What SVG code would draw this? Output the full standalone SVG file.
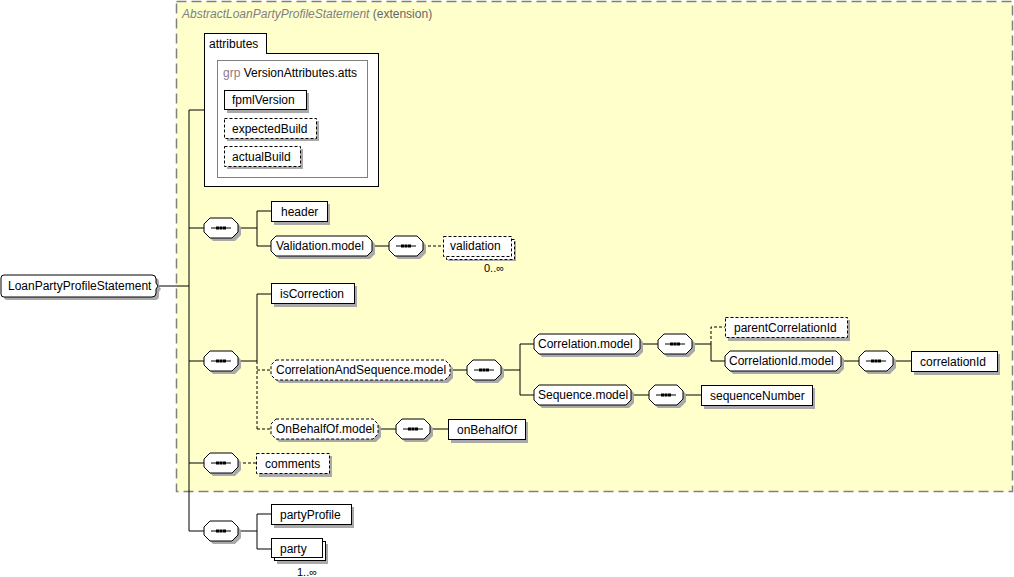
<svg xmlns="http://www.w3.org/2000/svg" xmlns:xlink="http://www.w3.org/1999/xlink" width="1014" height="577" viewBox="0 0 1014 577">
<style>
text{font-family:"Liberation Sans",Arial,sans-serif;font-size:12px;fill:#000}
.sh{fill:#A9A9A9;stroke:none}
.el{fill:#fff;stroke:#000;stroke-width:1}
.opt{fill:#fff;stroke:#000;stroke-width:1;stroke-dasharray:3,2}
.ln{fill:none;stroke:#000;stroke-width:1}
.dl{fill:none;stroke:#000;stroke-width:1;stroke-dasharray:3,2}
.small{font-size:11px}
</style>
<defs>
<g id="seq">
<path class="sh" d="M9,3H31L37,9V17L31,23H9L3,17V9Z"/>
<path class="el" d="M6,0H28L34,6V14L28,20H6L0,14V6Z"/>
<line x1="7" y1="10" x2="27" y2="10" stroke="#000"/>
<rect x="12" y="8.5" width="3" height="3" fill="#000"/>
<rect x="15.5" y="8.5" width="3" height="3" fill="#000"/>
<rect x="19" y="8.5" width="3" height="3" fill="#000"/>
</g>
</defs>

<g id="extension">
<rect x="176.5" y="1.5" width="836" height="490" fill="#FFFFCC" stroke="#808080" stroke-width="1.5" stroke-dasharray="10,5"/>
<text x="182" y="18" fill="#808080" style="font-style:italic;fill:#808080">AbstractLoanPartyProfileStatement <tspan style="font-style:normal;fill:#666">(extension)</tspan></text>
</g>

<g id="connectors">
<path class="ln" d="M157,286H189M189,110V531M189,110H204M189,228H204M189,361H204M189,463H204M189,531H204"/>
<path class="ln" d="M238,228H257M257,211V246M257,211H271M257,246H271M372,246H389"/>
<path class="dl" d="M423,246H443"/>
<path class="ln" d="M238,361H257M257,294V361M257,294H271"/>
<path class="dl" d="M257,361V429M257,370H271M257,429H271"/>
<path class="ln" d="M450,370H467M501,370H520M520,344V395M520,344H534M520,395H534"/>
<path class="ln" d="M640,344H658M692,344H711M711,344V361M711,361H725M841,361H859M893,361H911"/>
<path class="dl" d="M711,344V327H725"/>
<path class="ln" d="M631,395H649M683,395H701"/>
<path class="ln" d="M378,429H396M430,429H448"/>
<path class="dl" d="M238,463H256"/>
<path class="ln" d="M238,531H257M257,514V549M257,514H271M257,549H271"/>
</g>

<g id="root">
<path class="sh" d="M7,278H155Q159,278 159,282V286L161,289L159,292V296Q159,300 155,300H7Q4,300 4,297V281Q4,278 7,278Z"/>
<path class="el" d="M4,275H152Q156,275 156,279V283L158,286L156,289V293Q156,297 152,297H4Q1,297 1,294V278Q1,275 4,275Z"/>
<text x="8" y="290">LoanPartyProfileStatement</text>
</g>

<g id="attributes">
<rect x="204.5" y="33.5" width="62" height="21" class="el"/>
<rect x="204.5" y="53.5" width="174" height="133" class="el"/>
<line x1="205" y1="53.5" x2="266" y2="53.5" stroke="#fff" stroke-width="1.2"/>
<text x="209" y="48">attributes</text>
<rect x="217.5" y="60.5" width="150" height="117" fill="none" stroke="#808080"/>
<text x="223" y="77"><tspan fill="#8B7B8B">grp</tspan> VersionAttributes.atts</text>
</g>
<g id="fpmlVersion">
<rect class="sh" x="227" y="93" width="82" height="20"/>
<rect class="el" x="224.5" y="90.5" width="82" height="19"/>
<text x="232" y="104">fpmlVersion</text>
</g>
<g id="expectedBuild">
<rect class="sh" x="227" y="121" width="92" height="20"/>
<rect class="opt" x="224.5" y="118.5" width="92" height="20"/>
<text x="232" y="133">expectedBuild</text>
</g>
<g id="actualBuild">
<rect class="sh" x="227" y="149" width="76" height="20"/>
<rect class="opt" x="224.5" y="146.5" width="76" height="20"/>
<text x="232" y="161">actualBuild</text>
</g>

<g id="seq1"><use xlink:href="#seq" x="204" y="218"/></g>
<g id="seq2"><use xlink:href="#seq" x="204" y="351"/></g>
<g id="seq3"><use xlink:href="#seq" x="204" y="453"/></g>
<g id="seq4"><use xlink:href="#seq" x="204" y="521"/></g>
<g id="seq5"><use xlink:href="#seq" x="389" y="236"/></g>
<g id="seq6"><use xlink:href="#seq" x="467" y="360"/></g>
<g id="seq7"><use xlink:href="#seq" x="396" y="419"/></g>
<g id="seq8"><use xlink:href="#seq" x="658" y="334"/></g>
<g id="seq9"><use xlink:href="#seq" x="859" y="351"/></g>
<g id="seq10"><use xlink:href="#seq" x="649" y="385"/></g>

<g id="header">
<rect class="sh" x="274" y="204" width="56" height="21"/>
<rect class="el" x="271.5" y="201.5" width="56" height="20"/>
<text x="281" y="216">header</text>
</g>
<g id="ValidationModel">
<path class="sh" transform="translate(3,3)" d="M276,236H367L372,241V251L367,256H276L271,251V241Z"/>
<path class="el" d="M276,236H367L372,241V251L367,256H276L271,251V241Z"/>
<text x="276" y="250">Validation.model</text>
</g>
<g id="validation">
<rect class="sh" x="448" y="241" width="68" height="20"/>
<rect class="opt" x="446.5" y="239.5" width="68" height="20"/>
<rect class="opt" x="443.5" y="236.5" width="68" height="20"/>
<text x="450" y="250">validation</text>
<text x="484" y="272" class="small">0..∞</text>
</g>
<g id="isCorrection">
<rect class="sh" x="274" y="286" width="83" height="21"/>
<rect class="el" x="271.5" y="283.5" width="83" height="20"/>
<text x="280" y="298">isCorrection</text>
</g>
<g id="CorrelationAndSequenceModel">
<path class="sh" transform="translate(3,3)" d="M276,360H445L450,365V375L445,380H276L271,375V365Z"/>
<path class="opt" d="M276,360H445L450,365V375L445,380H276L271,375V365Z"/>
<text x="276" y="374">CorrelationAndSequence.model</text>
</g>
<g id="OnBehalfOfModel">
<path class="sh" transform="translate(3,3)" d="M276,419H373L378,424V434L373,439H276L271,434V424Z"/>
<path class="opt" d="M276,419H373L378,424V434L373,439H276L271,434V424Z"/>
<text x="276" y="433">OnBehalfOf.model</text>
</g>
<g id="onBehalfOf">
<rect class="sh" x="451" y="422" width="77" height="21"/>
<rect class="el" x="448.5" y="419.5" width="77" height="20"/>
<text x="457" y="434">onBehalfOf</text>
</g>
<g id="comments">
<rect class="sh" x="259" y="456" width="73" height="21"/>
<rect class="opt" x="256.5" y="453.5" width="73" height="20"/>
<text x="265" y="468">comments</text>
</g>
<g id="CorrelationModel">
<path class="sh" transform="translate(3,3)" d="M539,334H635L640,339V349L635,354H539L534,349V339Z"/>
<path class="el" d="M539,334H635L640,339V349L635,354H539L534,349V339Z"/>
<text x="538" y="348">Correlation.model</text>
</g>
<g id="SequenceModel">
<path class="sh" transform="translate(3,3)" d="M539,385H626L631,390V400L626,405H539L534,400V390Z"/>
<path class="el" d="M539,385H626L631,390V400L626,405H539L534,400V390Z"/>
<text x="538" y="399">Sequence.model</text>
</g>
<g id="parentCorrelationId">
<rect class="sh" x="728" y="320" width="122" height="21"/>
<rect class="opt" x="725.5" y="317.5" width="122" height="20"/>
<text x="734" y="332">parentCorrelationId</text>
</g>
<g id="CorrelationIdModel">
<path class="sh" transform="translate(3,3)" d="M730,351H836L841,356V366L836,371H730L725,366V356Z"/>
<path class="el" d="M730,351H836L841,356V366L836,371H730L725,366V356Z"/>
<text x="729" y="365">CorrelationId.model</text>
</g>
<g id="correlationId">
<rect class="sh" x="914" y="354" width="86" height="21"/>
<rect class="el" x="911.5" y="351.5" width="86" height="20"/>
<text x="920" y="366">correlationId</text>
</g>
<g id="sequenceNumber">
<rect class="sh" x="704" y="388" width="111" height="21"/>
<rect class="el" x="701.5" y="385.5" width="111" height="20"/>
<text x="710" y="400">sequenceNumber</text>
</g>
<g id="partyProfile">
<rect class="sh" x="274" y="507" width="80" height="21"/>
<rect class="el" x="271.5" y="504.5" width="80" height="20"/>
<text x="280" y="519">partyProfile</text>
</g>
<g id="party">
<rect class="sh" x="277" y="544" width="51" height="20"/>
<rect class="el" x="274.5" y="541.5" width="51" height="19"/>
<rect class="el" x="271.5" y="538.5" width="51" height="19"/>
<text x="280" y="553">party</text>
<text x="297" y="576" class="small">1..∞</text>
</g>
</svg>
